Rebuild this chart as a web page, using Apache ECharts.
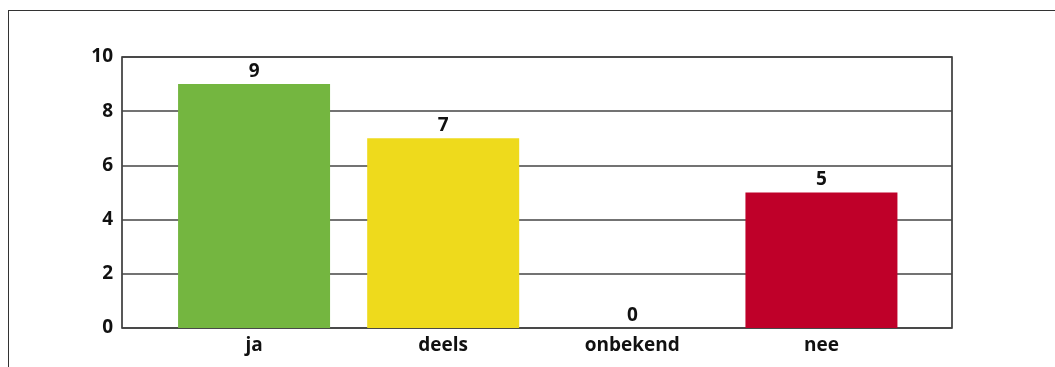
<!DOCTYPE html>
<html>
<head>
<meta charset="utf-8">
<script src="https://cdn.jsdelivr.net/npm/echarts@6/dist/echarts.min.js"></script>
<style>
  html, body { margin: 0; padding: 0; background: #fff; }
  #frame { position: absolute; left: 8px; top: 10px; right: 0; bottom: 0;
           border-left: 1.5px solid #333; border-top: 1.5px solid #333; }
  #chart { position: absolute; left: 0; top: 0; width: 1055px; height: 367px; }
</style>
</head>
<body>
<div id="frame"></div>
<div id="chart"></div>
<script>
// categories and values
var categories = ['ja', 'deels', 'onbekend', 'nee'];
var values = [9, 7, 0, 5];
var barColors = ['#74B640', '#EEDA1C', '#74B640', '#BF0029'];
var yTicks = [0, 2, 4, 6, 8, 10];

var font = '"Open Sans", Lato, sans-serif';

var chart = echarts.init(document.getElementById('chart'));
chart.setOption({
    animation: false,
    grid: [
        // outer box with the gridlines
        { left: 122, right: 103, top: 57, bottom: 39, show: true,
          borderColor: '#222', borderWidth: 1.5, backgroundColor: 'transparent' },
        // inner area where the categories sit
        { left: 159.5, right: 139, top: 57, bottom: 39 }
    ],
    xAxis: [
        { gridIndex: 0, type: 'value', show: false, min: 0, max: 1 },
        { gridIndex: 1, type: 'category', data: categories,
          axisLine: { show: false }, axisTick: { show: false },
          axisLabel: { color: '#111', fontFamily: font, fontWeight: 'bold',
                       fontSize: 19, margin: 8 } }
    ],
    yAxis: [
        { gridIndex: 0, type: 'value', min: yTicks[0], max: yTicks[yTicks.length - 1], interval: 2,
          axisLine: { show: false }, axisTick: { show: false },
          axisLabel: { color: '#111', fontFamily: font, fontWeight: 'bold',
                       fontSize: 19, margin: 9 },
          splitLine: { lineStyle: { color: '#444', width: 1.5 } } },
        { gridIndex: 1, type: 'value', min: 0, max: 10, show: false }
    ],
    series: [{
        type: 'bar',
        xAxisIndex: 1,
        yAxisIndex: 1,
        barWidth: 152,
        data: values.map(function (v, i) {
            return { value: v, itemStyle: { color: barColors[i] } };
        }),
        label: { show: true, position: 'top', distance: 3, color: '#111',
                 fontFamily: font, fontWeight: 'bold', fontSize: 19 }
    }]
});
</script>
</body>
</html>
